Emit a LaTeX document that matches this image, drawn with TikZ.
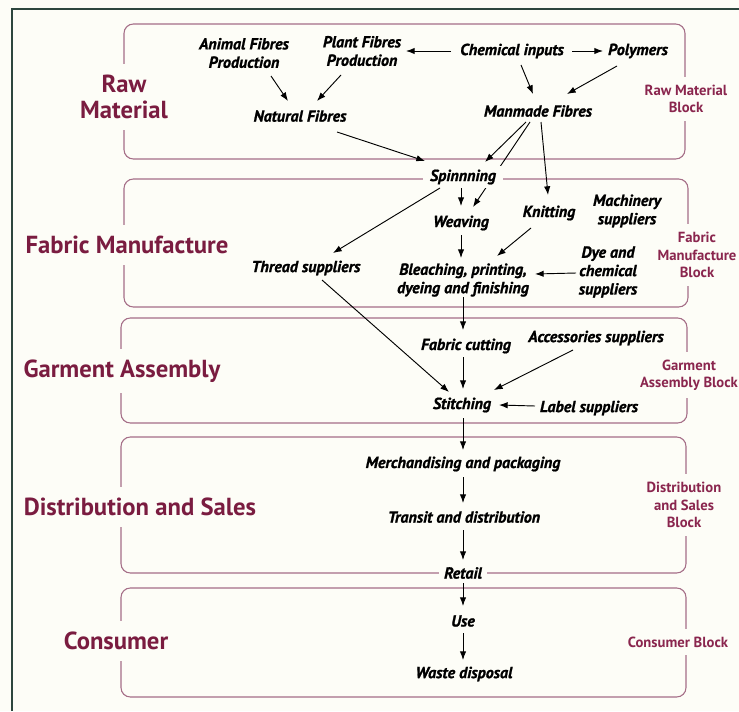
\documentclass[tikz,border=0pt]{standalone}
\usepackage{fontspec}
\setmainfont{PT Sans}[BoldItalicFeatures={FakeBold=1.2}]
\usetikzlibrary{arrows.meta,backgrounds}
\definecolor{bgc}{RGB}{253,253,247}
\definecolor{boxc}{RGB}{165,110,135}
\definecolor{labc}{RGB}{122,28,64}
\definecolor{rlabc}{RGB}{138,38,78}
\definecolor{framec}{RGB}{45,70,62}
\begin{document}
\begin{tikzpicture}[x=0.75pt,y=-0.75pt,
 blk/.style={draw=boxc, line width=0.8pt, rounded corners=7pt},
 item/.style={font=\fontsize{12}{13.8}\selectfont\bfseries\itshape, align=center, inner sep=1pt, text=black},
 leftlab/.style={font=\fontsize{18.5}{19.5}\selectfont\bfseries, text=labc, fill=bgc, align=center, inner xsep=2pt, inner ysep=8pt},
 rightlab/.style={font=\fontsize{11}{13}\selectfont\bfseries, text=rlabc, fill=bgc, align=center, inner xsep=1pt, inner ysep=6pt},
 arr/.style={-{Latex[length=6.5pt,width=4.8pt]}, line width=0.7pt, draw=black},
]
\useasboundingbox (0,0) rectangle (739,711);
\begin{pgfonlayer}{background}
\fill[bgc] (0,0) rectangle (739,711);
\draw[blk] (124,24) rectangle (685,159);
\draw[blk] (124,179) rectangle (688,307);
\draw[blk] (121,318) rectangle (687,423);
\draw[blk] (121,437) rectangle (686,573);
\draw[blk] (121,588) rectangle (686,697);
\end{pgfonlayer}
\draw[framec, line width=1.2pt] (12,711) -- (12,9) -- (739,9);

% block labels
\node[leftlab] (rawL) at (124,97) {Raw\\Material};
\node[leftlab] (fabL) at (127,245) {Fabric Manufacture};
\node[leftlab] (garL) at (122,371) {Garment Assembly};
\node[leftlab] (disL) at (140,507) {Distribution and Sales};
\node[leftlab] (conL) at (116,641) {Consumer};
\node[rightlab] (rawR) at (686,99) {Raw Material\\Block};
\node[rightlab] (fabR) at (697,255) {Fabric\\Manufacture\\Block};
\node[rightlab] (garR) at (689,375) {Garment\\Assembly Block};
\node[rightlab] (disR) at (684,505) {Distribution\\and Sales\\Block};
\node[rightlab] (conR) at (678,642) {Consumer Block};

% items
\node[item] (animal) at (244,53) {Animal Fibres\\Production};
\node[item] (plant) at (362,51) {Plant Fibres\\Production};
\node[item] (chem) at (512,51) {Chemical inputs};
\node[item] (poly) at (638,51) {Polymers};
\node[item] (natural) at (300,116) {Natural Fibres};
\node[item] (manmade) at (538,111) {Manmade Fibres};
\node[item, fill=bgc, inner xsep=5pt, inner ysep=3pt] (spin) at (463,177) {Spinnning};
\node[item] (weaving) at (461,223) {Weaving};
\node[item] (knitting) at (549,213) {Knitting};
\node[item] (machinery) at (627,211) {Machinery\\suppliers};
\node[item] (thread) at (306,268) {Thread suppliers};
\node[item] (bleach) at (463,280) {Bleaching, printing,\\dyeing and finishing};
\node[item] (dye) at (608,272) {Dye and\\chemical\\suppliers};
\node[item] (cutting) at (466,346) {Fabric cutting};
\node[item] (access) at (596,338) {Accessories suppliers};
\node[item] (stitch) at (462,405) {Stitching};
\node[item] (label) at (589,408) {Label suppliers};
\node[item] (merch) at (463,464) {Merchandising and packaging};
\node[item] (transit) at (464,517) {Transit and distribution};
\node[item, fill=bgc, inner xsep=4pt, inner ysep=2pt] (retail) at (463,573) {Retail};
\node[item] (use) at (463,621) {Use};
\node[item] (waste) at (464,674) {Waste disposal};

% connector hidden behind Spinnning
\begin{pgfonlayer}{background}
\draw[arr] ([shift={(-8,11)}]manmade.center) -- ([shift={(12,-16)}]weaving.center);
\end{pgfonlayer}

% connectors
\draw[arr] ([shift={(27,23)}]animal.center) -- ([shift={(-12,-15)}]natural.center);
\draw[arr] ([shift={(-21,24)}]plant.center) -- ([shift={(17,-15)}]natural.center);
\draw[arr] ([shift={(-61,0)}]chem.center) -- ([shift={(44,0)}]plant.center);
\draw[arr] ([shift={(60,0)}]chem.center) -- ([shift={(-35,0)}]poly.center);
\draw[arr] ([shift={(9,14)}]chem.center) -- ([shift={(-5,-17)}]manmade.center);
\draw[arr] ([shift={(-21,15)}]poly.center) -- ([shift={(29,-17)}]manmade.center);
\draw[arr] ([shift={(37,16)}]natural.center) -- ([shift={(-38,-16)}]spin.center);
\draw[arr] ([shift={(-12,11)}]manmade.center) -- ([shift={(22,-15)}]spin.center);
\draw[arr] ([shift={(3,11)}]manmade.center) -- ([shift={(-1,-18)}]knitting.center);
\draw[arr] ([shift={(-2,11)}]spin.center) -- ([shift={(0,-17)}]weaving.center);
\draw[arr] ([shift={(-23,11)}]spin.center) -- ([shift={(27,-15)}]thread.center);
\draw[arr] ([shift={(0,12)}]weaving.center) -- ([shift={(-2,-22)}]bleach.center);
\draw[arr] ([shift={(-18,15)}]knitting.center) -- ([shift={(34,-24)}]bleach.center);
\draw[arr] ([shift={(-32,1)}]dye.center) -- ([shift={(72,-6)}]bleach.center);
\draw[arr] ([shift={(0,17)}]bleach.center) -- ([shift={(-3,-16)}]cutting.center);
\draw[arr] ([shift={(16,12)}]thread.center) -- ([shift={(-13,-13)}]stitch.center);
\draw[arr] ([shift={(-3,11)}]cutting.center) -- ([shift={(1,-16)}]stitch.center);
\draw[arr] ([shift={(-23,12)}]access.center) -- ([shift={(32,-15)}]stitch.center);
\draw[arr] ([shift={(-54,-2)}]label.center) -- ([shift={(37,0)}]stitch.center);
\draw[arr] ([shift={(1,13)}]stitch.center) -- ([shift={(0,-14)}]merch.center);
\draw[arr] ([shift={(0,13)}]merch.center) -- ([shift={(-1,-14)}]transit.center);
\draw[arr] ([shift={(-1,13)}]transit.center) -- ([shift={(0,-13)}]retail.center);
\draw[arr] ([shift={(0,10)}]retail.center) -- ([shift={(0,-15)}]use.center);
\draw[arr] ([shift={(0,12)}]use.center) -- ([shift={(-1,-14)}]waste.center);
\end{tikzpicture}
\end{document}
